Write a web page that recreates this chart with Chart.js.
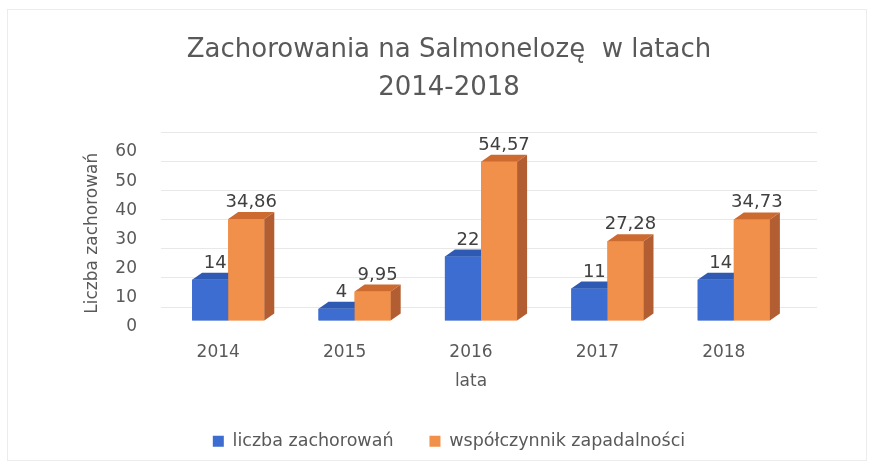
<!DOCTYPE html>
<html><head><meta charset="utf-8">
<script src="https://cdn.jsdelivr.net/npm/chart.js@4/dist/chart.umd.min.js"></script>
<style>html,body{margin:0;padding:0;background:#fff}#wrap{width:873px;height:466px}</style>
</head><body><div id="wrap"><canvas id="c" width="873" height="466"></canvas></div>
<script>
const categories = ['2014', '2015', '2016', '2017', '2018'];
const casesValues = [14, 4, 22, 11, 14];
const incidenceValues = [34.86, 9.95, 54.57, 27.28, 34.73];
const casesLabels = ['14', '4', '22', '11', '14'];
const incidenceLabels = ['34,86', '9,95', '54,57', '27,28', '34,73'];
const seriesNames = ['liczba zachorowań', 'współczynnik zapadalności'];
const titleLines = ['Zachorowania na Salmonelozę  w latach', '2014-2018'];
const yTitle = 'Liczba zachorowań';
const xTitle = 'lata';
const yMin = 0, yMax = 60, yStep = 10;

const FONT = "'DejaVu Sans', sans-serif";
const TXT = '#595959';
const DX = 10, DY = 7;      // bar depth
const WALL = 14;            // back-wall gridline offset
const faces = [
  { front: '#3D6DD0', top: '#2E5AB4', side: '#28509F' },
  { front: '#F0904A', top: '#CC6A30', side: '#B35E32' }
];
const dataLabelSets = [casesLabels, incidenceLabels];

function drawBar3D(ctx, p, f) {
  const l = p.x - p.width / 2, r = p.x + p.width / 2;
  ctx.fillStyle = f.front;
  ctx.fillRect(l, p.y, r - l, p.base - p.y);
  ctx.fillStyle = f.top;
  ctx.beginPath();
  ctx.moveTo(l, p.y); ctx.lineTo(l + DX, p.y - DY); ctx.lineTo(r + DX, p.y - DY); ctx.lineTo(r, p.y);
  ctx.closePath(); ctx.fill();
  ctx.fillStyle = f.side;
  ctx.beginPath();
  ctx.moveTo(r, p.y); ctx.lineTo(r + DX, p.y - DY); ctx.lineTo(r + DX, p.base - DY); ctx.lineTo(r, p.base);
  ctx.closePath(); ctx.fill();
}

const depthPlugin = {
  id: 'depth',
  beforeDraw(chart) {
    const ctx = chart.ctx;
    ctx.save();
    ctx.strokeStyle = '#ECECEC';
    ctx.lineWidth = 1;
    ctx.strokeRect(7.5, 9.5, 859, 451);
    ctx.restore();
  },
  beforeDatasetsDraw(chart) {
    const ctx = chart.ctx, ys = chart.scales.y, ca = chart.chartArea;
    ctx.save();
    ctx.strokeStyle = '#E8E8E8';
    ctx.lineWidth = 1;
    ys.ticks.forEach(t => {
      const y = Math.round(ys.getPixelForValue(t.value) - WALL) + 0.5;
      ctx.beginPath();
      ctx.moveTo(ca.left - 4, y);
      ctx.lineTo(ca.right + 20, y);
      ctx.stroke();
    });
    ctx.restore();
  },
  afterDatasetsDraw(chart) {
    const ctx = chart.ctx;
    const metas = chart.data.datasets.map((ds, i) => chart.getDatasetMeta(i));
    ctx.save();
    categories.forEach((c, j) => {
      metas.forEach((m, i) => {
        const p = m.data[j].getProps(['x', 'y', 'base', 'width'], true);
        drawBar3D(ctx, p, faces[i]);
      });
    });
    ctx.font = '18px ' + FONT;
    ctx.fillStyle = '#404040';
    ctx.textAlign = 'center';
    ctx.textBaseline = 'alphabetic';
    metas.forEach((m, i) => {
      m.data.forEach((bar, j) => {
        const p = bar.getProps(['x', 'y'], true);
        ctx.fillText(dataLabelSets[i][j], p.x + DX / 2, p.y - DY - 5);
      });
    });
    const ca = chart.chartArea;
    ctx.font = '17px ' + FONT;
    ctx.fillStyle = TXT;
    ctx.textBaseline = 'middle';
    ctx.fillText(xTitle, (ca.left + ca.right) / 2 - 10, 382);
    ctx.restore();
  }
};

new Chart(document.getElementById('c'), {
  type: 'bar',
  data: {
    labels: categories,
    datasets: [
      { label: seriesNames[0], data: casesValues, backgroundColor: faces[0].front, borderWidth: 0,
        categoryPercentage: 0.571, barPercentage: 1.0 },
      { label: seriesNames[1], data: incidenceValues, backgroundColor: faces[1].front, borderWidth: 0,
        categoryPercentage: 0.571, barPercentage: 1.0 }
    ]
  },
  options: {
    responsive: false,
    animation: false,
    layout: { padding: { left: 101, right: 76, top: 0, bottom: 6 } },
    plugins: {
      title: {
        display: true, text: titleLines, color: TXT,
        font: { family: FONT, size: 26, weight: 'normal', lineHeight: '38px' },
        padding: { top: 31, bottom: 39 }
      },
      legend: {
        position: 'bottom',
        labels: {
          color: TXT, font: { family: FONT, size: 17.5 }, boxWidth: 11, boxHeight: 11, padding: 36,
          generateLabels: (chart) => chart.data.datasets.map((ds, i) => ({
            text: ds.label, fillStyle: faces[i].front, strokeStyle: faces[i].front, lineWidth: 0,
            datasetIndex: i, hidden: false, fontColor: TXT
          }))
        }
      },
      tooltip: { enabled: false }
    },
    scales: {
      x: {
        grid: { display: false }, border: { display: false },
        ticks: { color: TXT, font: { family: FONT, size: 17 }, padding: 14, labelOffset: -10 },
        afterFit: (s) => { s.height = 76; }
      },
      y: {
        min: yMin, max: yMax,
        grid: { display: false, drawTicks: false }, border: { display: false },
        ticks: { stepSize: yStep, color: TXT, font: { family: FONT, size: 17 }, padding: 28, labelOffset: 6 },
        title: { display: true, text: yTitle, color: TXT, font: { family: FONT, size: 17 }, padding: { top: -19, bottom: 0 } },
        afterFit: (s) => { s.width = 64; }
      }
    }
  },
  plugins: [depthPlugin]
});
</script></body></html>
